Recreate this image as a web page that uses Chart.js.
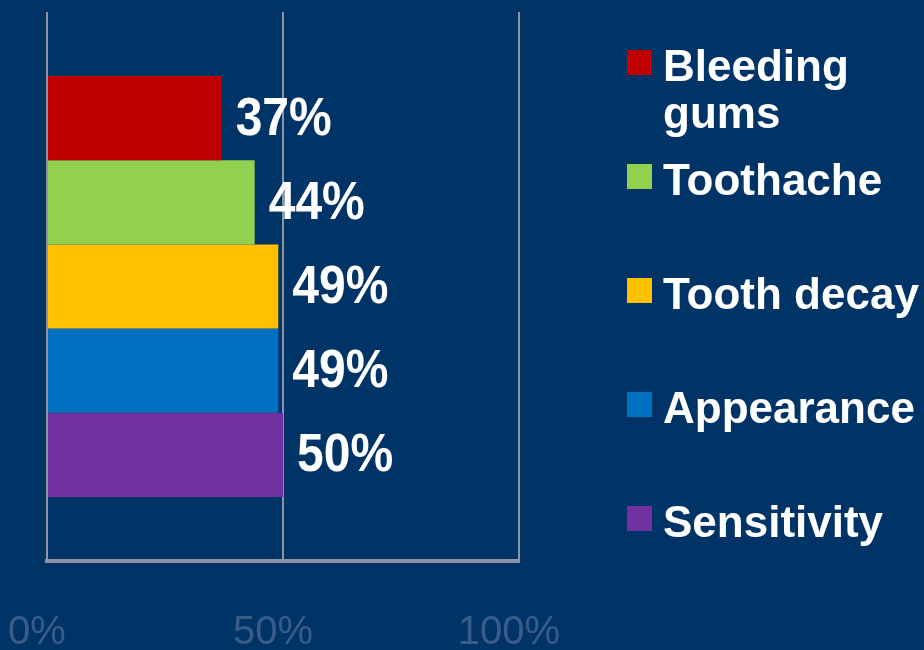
<!DOCTYPE html>
<html>
<head>
<meta charset="utf-8">
<script src="https://cdn.jsdelivr.net/npm/chart.js@4.4.1/dist/chart.umd.min.js"></script>
<style>
  html, body { margin: 0; padding: 0; background: #003366; }
  #wrap { width: 924px; height: 650px; position: relative; }
</style>
</head>
<body>
<div id="wrap"><canvas id="myChart"></canvas></div>
<script>
// data for chart
const seriesNames = ["Bleeding gums", "Toothache", "Tooth decay", "Appearance", "Sensitivity"];
const seriesValues = [37, 44, 49, 49, 50];
const barColors = ["#C00000", "#92D050", "#FFC000", "#0070C0", "#7030A0"];
const tickValues = [0, 50, 100];

const font = "'Liberation Sans', Arial, sans-serif";

// value labels next to each bar
const valueLabels = {
  id: "valueLabels",
  afterDatasetsDraw(chart) {
    const ctx = chart.ctx;
    ctx.save();
    ctx.fillStyle = "#ffffff";
    ctx.font = "bold 48px " + font;
    ctx.textAlign = "left";
    ctx.textBaseline = "middle";
    chart.data.datasets.forEach((ds, i) => {
      const bar = chart.getDatasetMeta(i).data[0];
      ctx.save();
      ctx.translate(bar.x + 14, bar.y + 2);
      ctx.scale(1, 1.1);
      ctx.fillText(ds.data[0] + "%", 0, 0);
      ctx.restore();
    });
    ctx.restore();
  },
};

// legend on the right, evenly spaced, long names wrapped
const sideLegend = {
  id: "sideLegend",
  afterDraw(chart) {
    const ctx = chart.ctx;
    const boxX = 627, textX = 663, top = 62, step = 114;
    ctx.save();
    ctx.font = "bold 44px " + font;
    ctx.textBaseline = "alphabetic";
    const maxW = chart.width - textX;
    chart.data.datasets.forEach((ds, i) => {
      const cy = top + i * step;
      ctx.fillStyle = ds.backgroundColor;
      ctx.fillRect(boxX, cy - 12, 25, 25);
      // wrap words
      const words = ds.label.split(" ");
      const lines = [];
      let line = "";
      words.forEach((w) => {
        const test = line ? line + " " + w : w;
        if (line && ctx.measureText(test).width > maxW) {
          lines.push(line);
          line = w;
        } else {
          line = test;
        }
      });
      lines.push(line);
      ctx.fillStyle = "#ffffff";
      lines.forEach((l, j) => {
        ctx.fillText(l, textX, cy + 19 + j * 47);
      });
    });
    ctx.restore();
  },
};

new Chart("myChart", {
  type: "bar",
  data: {
    labels: [""],
    datasets: seriesNames.map((name, i) => ({
      label: name,
      data: [seriesValues[i]],
      backgroundColor: barColors[i],
      borderWidth: 0,
      barPercentage: 1,
      categoryPercentage: 0.767,
    })),
  },
  options: {
    indexAxis: "y",
    responsive: true,
    maintainAspectRatio: false,
    animation: false,
    layout: { padding: { left: 47, right: 405, top: 12, bottom: 0 } },
    plugins: {
      legend: { display: false },
      tooltip: { enabled: false },
    },
    scales: {
      y: { display: false },
      x: {
        min: 0,
        max: 100,
        afterBuildTicks(scale) {
          scale.ticks = tickValues.map((v) => ({ value: v }));
        },
        afterFit(scale) {
          scale.height = 89;
          scale.paddingLeft = 0;
          scale.paddingRight = 0;
        },
        grid: {
          color: "#8c94a8",
          lineWidth: 2,
          drawTicks: false,
        },
        border: { display: true, color: "#8c94a8", width: 4 },
        ticks: {
          padding: 48,
          labelOffset: -10,
          color: "rgba(140,155,185,0.4)",
          font: { family: font, size: 40 },
          callback: (v) => v + "%",
        },
      },
    },
  },
  plugins: [valueLabels, sideLegend],
});
</script>
</body>
</html>
